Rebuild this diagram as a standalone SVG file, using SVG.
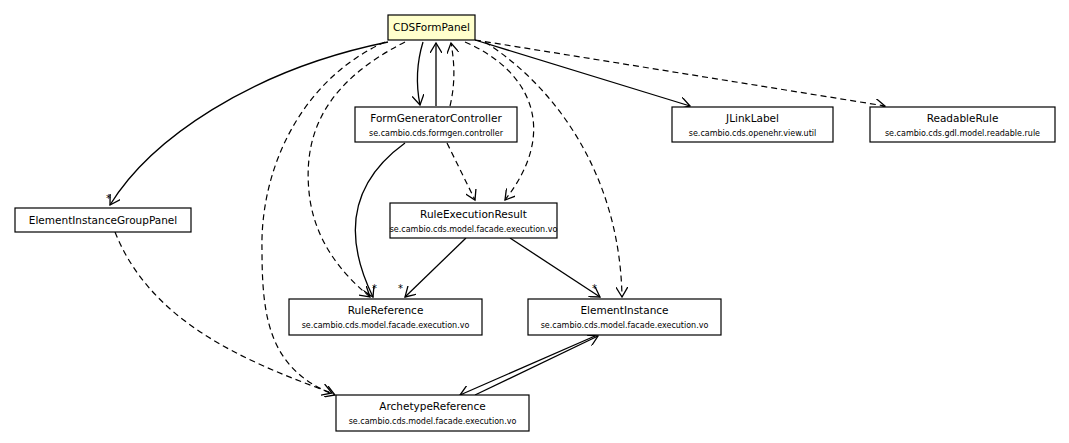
<svg xmlns="http://www.w3.org/2000/svg" width="1069" height="443" viewBox="0 0 1069 443">
<style>
.box{fill:#fff;stroke:#000;stroke-width:1.2}
.main{fill:#ffffcc}
.n{font-family:"DejaVu Sans",sans-serif;font-size:10.5px;text-anchor:middle}
.p{font-family:"DejaVu Sans",sans-serif;font-size:8px;text-anchor:middle}
.s{fill:none;stroke:#000;stroke-width:1.3}
.d{fill:none;stroke:#000;stroke-width:1.2;stroke-dasharray:6,4}
.l{font-family:"DejaVu Sans",sans-serif;font-size:10px}
</style>
<defs>
<marker id="a" markerWidth="12" markerHeight="12" refX="10" refY="6" orient="auto" markerUnits="userSpaceOnUse">
<path d="M0,0 L10,6 L0,12" fill="none" stroke="#000" stroke-width="1.3"/>
</marker>
</defs>
<g id="connectors">
<path class="s" d="M388,42 C250,70 150,140 110,205" marker-end="url(#a)"/>
<path class="s" d="M423,42 C416,65 416,85 420,105" marker-end="url(#a)"/>
<path class="s" d="M436,106 L436,43" marker-end="url(#a)"/>
<path class="d" d="M450,106 C455,85 455,65 451,43" marker-end="url(#a)"/>
<path class="d" d="M465,42 C530,70 560,130 505,200" marker-end="url(#a)"/>
<path class="d" d="M447,143 L475,200" marker-end="url(#a)"/>
<path class="s" d="M475,40 L690,106" marker-end="url(#a)"/>
<path class="d" d="M475,40 L885,106" marker-end="url(#a)"/>
<path class="d" d="M405,42 C330,80 300,130 310,200 C318,250 350,280 370,297" marker-end="url(#a)"/>
<path class="d" d="M385,42 C300,80 260,170 262,250 C262,320 270,370 335,395" marker-end="url(#a)"/>
<path class="d" d="M485,42 C560,90 620,180 622,297" marker-end="url(#a)"/>
<path class="s" d="M405,143 C340,190 350,250 373,297" marker-end="url(#a)"/>
<path class="s" d="M466,238 L405,297" marker-end="url(#a)"/>
<path class="s" d="M510,238 L600,297" marker-end="url(#a)"/>
<path class="d" d="M115,232 C150,320 240,360 332,393" marker-end="url(#a)"/>
<path class="s" d="M595,336 L460,395" marker-end="url(#a)"/>
<path class="s" d="M475,395 L598,336" marker-end="url(#a)"/>
<text class="l" x="106" y="202">*</text>
<text class="l" x="372" y="292">*</text>
<text class="l" x="398" y="292">*</text>
<text class="l" x="592" y="292">*</text>
</g>
<g id="CDSFormPanel"><rect class="box main" x="388" y="15" width="87" height="25"/><text class="n" x="431.5" y="31">CDSFormPanel</text></g>
<g id="FormGeneratorController"><rect class="box" x="355" y="107" width="162" height="35"/><text class="n" x="436" y="122">FormGeneratorController</text><text class="p" x="436" y="136">se.cambio.cds.formgen.controller</text></g>
<g id="JLinkLabel"><rect class="box" x="672" y="107" width="161" height="35"/><text class="n" x="752.5" y="122">JLinkLabel</text><text class="p" x="752.5" y="136">se.cambio.cds.openehr.view.util</text></g>
<g id="ReadableRule"><rect class="box" x="870" y="107" width="185" height="35"/><text class="n" x="962.5" y="122">ReadableRule</text><text class="p" x="962.5" y="136">se.cambio.cds.gdl.model.readable.rule</text></g>
<g id="ElementInstanceGroupPanel"><rect class="box" x="15" y="208" width="176" height="24"/><text class="n" x="103" y="224">ElementInstanceGroupPanel</text></g>
<g id="RuleExecutionResult"><rect class="box" x="390" y="203" width="167" height="35"/><text class="n" x="473.5" y="218">RuleExecutionResult</text><text class="p" x="473.5" y="232">se.cambio.cds.model.facade.execution.vo</text></g>
<g id="RuleReference"><rect class="box" x="289" y="299" width="193" height="36"/><text class="n" x="385.5" y="314">RuleReference</text><text class="p" x="385.5" y="328">se.cambio.cds.model.facade.execution.vo</text></g>
<g id="ElementInstance"><rect class="box" x="528" y="299" width="193" height="36"/><text class="n" x="624.5" y="314">ElementInstance</text><text class="p" x="624.5" y="328">se.cambio.cds.model.facade.execution.vo</text></g>
<g id="ArchetypeReference"><rect class="box" x="336" y="395" width="193" height="36"/><text class="n" x="432.5" y="410">ArchetypeReference</text><text class="p" x="432.5" y="424">se.cambio.cds.model.facade.execution.vo</text></g>
</svg>
